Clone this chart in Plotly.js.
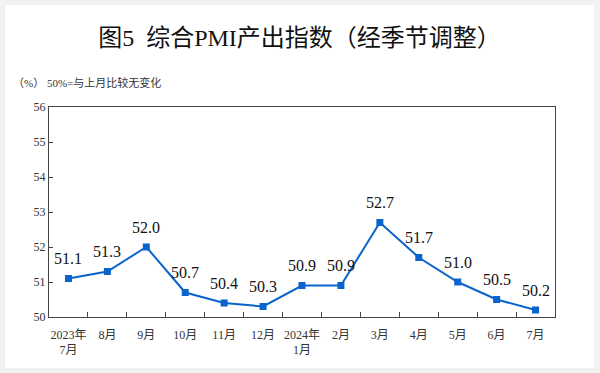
<!DOCTYPE html>
<html><head><meta charset="utf-8">
<script src="https://cdn.plot.ly/plotly-3.0.1.min.js"></script>
<style>
html,body{margin:0;padding:0;background:#f2f2f2;width:600px;height:373px;overflow:hidden}
#chart{position:absolute;left:5px;top:5px;width:589px;height:363px;background:#fff}
</style></head>
<body><div id="chart"></div>
<script>
const categories = ['2023年<br>7月','8月','9月','10月','11月','12月','2024年<br>1月','2月','3月','4月','5月','6月','7月'];
const values = [51.1, 51.3, 52.0, 50.7, 50.4, 50.3, 50.9, 50.9, 52.7, 51.7, 51.0, 50.5, 50.2];
const yTicks = [50, 51, 52, 53, 54, 55, 56];

const serif = '"Liberation Serif", "Noto Sans CJK SC", serif';
const lineColor = '#0a64cc';

const trace = {
  x: categories,
  y: values,
  type: 'scatter',
  mode: 'lines+markers',
  line: {color: lineColor, width: 2},
  marker: {color: lineColor, size: 7, symbol: 'square'},
  cliponaxis: false,
  hoverinfo: 'none'
};

const labelAnnotations = categories.map((c, i) => ({
  x: c, y: values[i], xref: 'x', yref: 'y',
  text: values[i].toFixed(1), showarrow: false,
  yshift: 20, xanchor: 'center', yanchor: 'middle',
  font: {family: serif, size: 16, color: '#111'}
}));

const layout = {
  width: 589, height: 363,
  margin: {l: 44, r: 39, t: 102, b: 51},
  paper_bgcolor: '#fff', plot_bgcolor: '#fff',
  showlegend: false,
  font: {family: serif, color: '#222'},
  title: {text: '图5  综合PMI产出指数（经季节调整）', x: 0.5, xanchor: 'center', y: 1 - 33/363, yanchor: 'middle', yref: 'container',
          font: {family: serif, size: 24, color: '#111'}},
  xaxis: {
    type: 'category', range: [-0.5, 12.5],
    showline: true, linecolor: '#444', linewidth: 1.2, mirror: true,
    ticks: 'inside', ticklen: 5, tickcolor: '#444', tickson: 'boundaries',
    tickangle: 0, ticklabelstandoff: 6,
    showgrid: false, zeroline: false,
    tickfont: {family: serif, size: 12, color: '#333'}
  },
  yaxis: {
    range: [50, 56], tickvals: yTicks, ticktext: yTicks.map(String),
    showline: true, linecolor: '#444', linewidth: 1.2, mirror: true,
    ticks: 'inside', ticklen: 4, tickcolor: '#444',
    showgrid: false, zeroline: false,
    tickfont: {family: serif, size: 12, color: '#333'}
  },
  annotations: [{
    text: '（%） 50%=与上月比较无变化', xref: 'paper', yref: 'paper',
    x: -0.075, y: 1.115, xanchor: 'left', yanchor: 'middle', showarrow: false,
    font: {family: serif, size: 11, color: '#333'}
  }].concat(labelAnnotations)
};

Plotly.newPlot('chart', [trace], layout, {displayModeBar: false, staticPlot: true});
</script></body></html>
